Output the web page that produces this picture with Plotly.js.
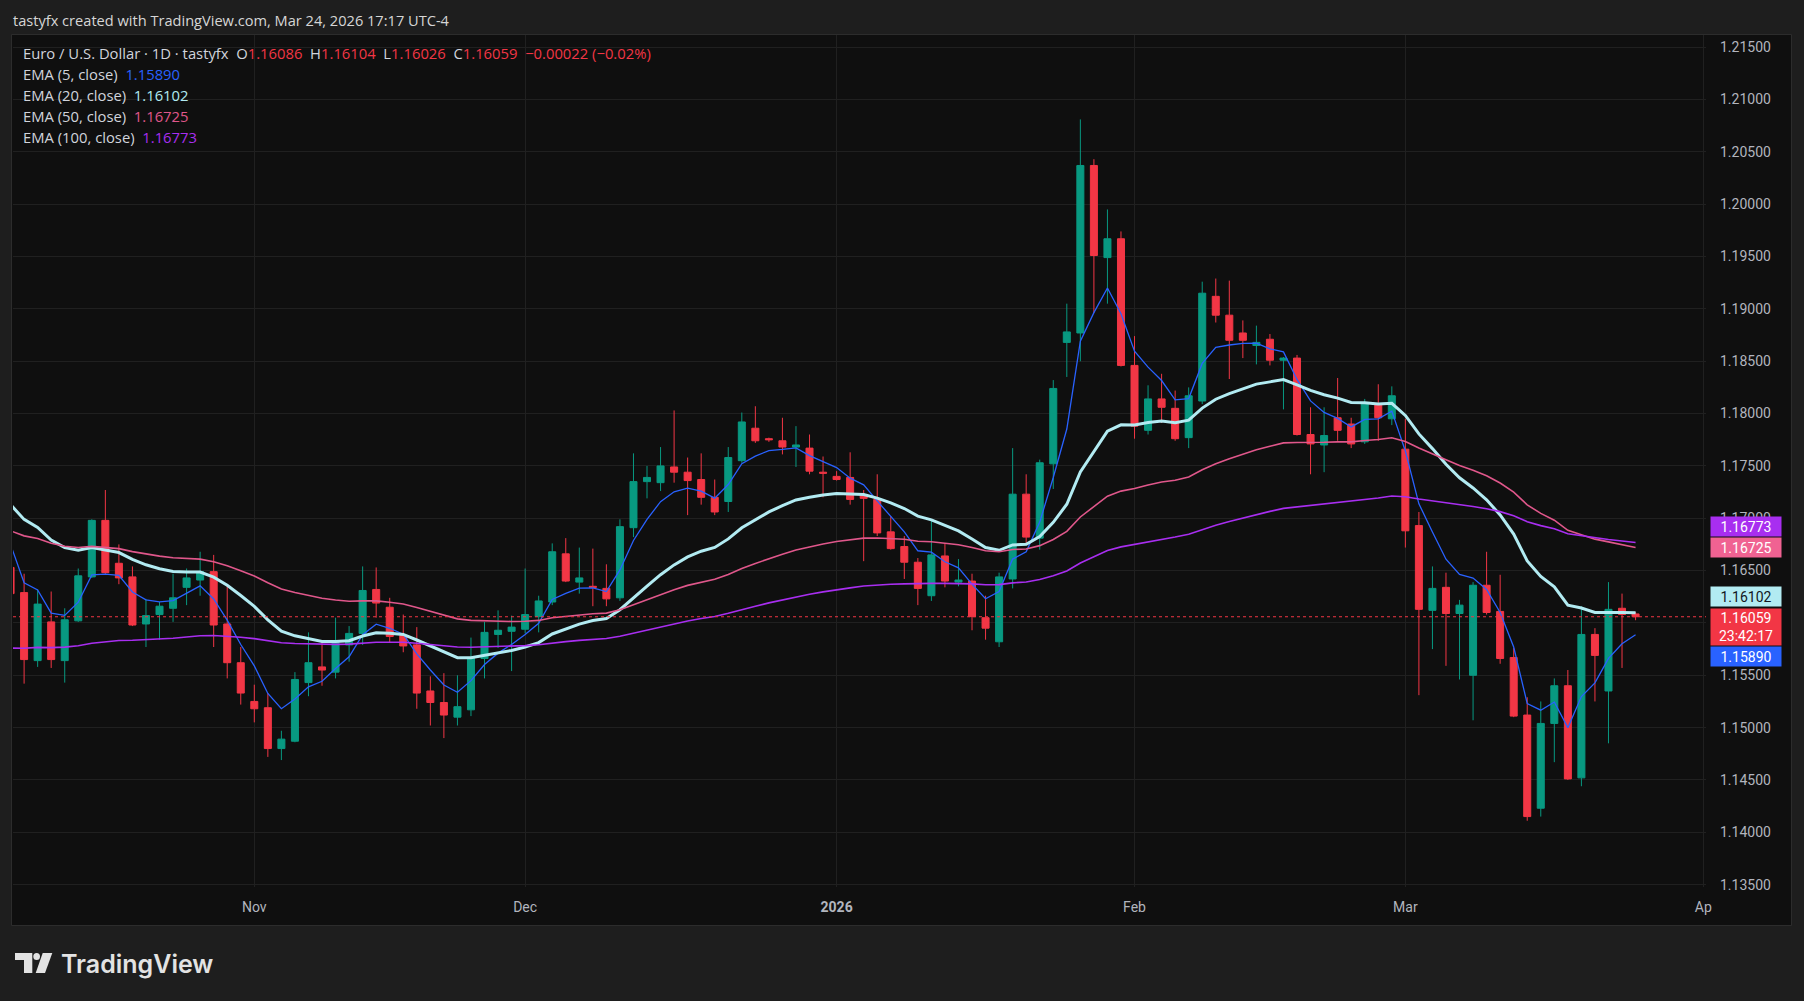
<!DOCTYPE html>
<html><head><meta charset="utf-8">
<script src="https://cdn.plot.ly/plotly-3.0.1.min.js"></script>
<style>html,body{margin:0;padding:0;background:#1e1e1e;}#chart{width:1804px;height:1001px;}</style>
</head><body><div id="chart"></div>
<script>
// ---------- DATA ----------
const dates = [
'2025-10-08','2025-10-09','2025-10-10','2025-10-13','2025-10-14','2025-10-15','2025-10-16','2025-10-17','2025-10-20','2025-10-21','2025-10-22','2025-10-23','2025-10-24','2025-10-27','2025-10-28','2025-10-29','2025-10-30','2025-10-31',
'2025-11-03','2025-11-04','2025-11-05','2025-11-06','2025-11-07','2025-11-10','2025-11-11','2025-11-12','2025-11-13','2025-11-14','2025-11-17','2025-11-18','2025-11-19','2025-11-20','2025-11-21','2025-11-24','2025-11-25','2025-11-26','2025-11-27','2025-11-28',
'2025-12-01','2025-12-02','2025-12-03','2025-12-04','2025-12-05','2025-12-08','2025-12-09','2025-12-10','2025-12-11','2025-12-12','2025-12-15','2025-12-16','2025-12-17','2025-12-18','2025-12-19','2025-12-22','2025-12-23','2025-12-24','2025-12-25','2025-12-26','2025-12-29','2025-12-30','2025-12-31',
'2026-01-01','2026-01-02','2026-01-05','2026-01-06','2026-01-07','2026-01-08','2026-01-09','2026-01-12','2026-01-13','2026-01-14','2026-01-15','2026-01-16','2026-01-19','2026-01-20','2026-01-21','2026-01-22','2026-01-23','2026-01-26','2026-01-27','2026-01-28','2026-01-29','2026-01-30',
'2026-02-02','2026-02-03','2026-02-04','2026-02-05','2026-02-06','2026-02-09','2026-02-10','2026-02-11','2026-02-12','2026-02-13','2026-02-16','2026-02-17','2026-02-18','2026-02-19','2026-02-20','2026-02-23','2026-02-24','2026-02-25','2026-02-26','2026-02-27',
'2026-03-02','2026-03-03','2026-03-04','2026-03-05','2026-03-06','2026-03-09','2026-03-10','2026-03-11','2026-03-12','2026-03-13','2026-03-16','2026-03-17','2026-03-18','2026-03-19','2026-03-20','2026-03-23','2026-03-24','2026-03-25'
];
const opens = [
1.1653,1.1629,1.1564,1.1601,1.1564,1.1602,1.1644,1.1698,1.1657,1.1644,1.1599,1.1608,1.1614,1.1634,1.1641,1.1649,1.1599,1.1562,
1.1525,1.1519,1.1480,1.1487,1.1543,1.1558,1.1553,1.1579,1.1590,1.1632,1.1615,1.1588,1.1579,1.1535,1.1524,1.1510,1.1517,1.1566,1.1589,1.1592,
1.1594,1.1606,1.1620,1.1666,1.1639,1.1635,1.1633,1.1624,1.1691,1.1735,1.1734,1.1749,1.1744,1.1737,1.1720,1.1716,1.1755,1.1786,1.1776,1.1774,1.1768,1.1767,1.1744,
1.1740,1.1739,1.1722,1.1718,1.1687,1.1673,1.1658,1.1626,1.1664,1.1639,1.1640,1.1605,1.1582,1.1642,1.1723,1.1681,1.1752,1.1868,1.1877,1.2037,1.1949,1.1967,
1.1846,1.1784,1.1814,1.1805,1.1777,1.1812,1.1912,1.1894,1.1877,1.1865,1.1871,1.1851,1.1853,1.1780,1.1770,1.1796,1.1790,1.1773,1.1809,1.1795,
1.1766,1.1693,1.1612,1.1634,1.1609,1.1550,1.1636,1.1611,1.1567,1.1512,1.1423,1.1504,1.1540,1.1452,1.1589,1.1535,1.1614,1.16086
];
const highs = [
1.1668,1.1647,1.1632,1.1630,1.1614,1.1652,1.1699,1.1727,1.1675,1.1654,1.1623,1.1620,1.1647,1.1652,1.1668,1.1665,1.1636,1.1577,
1.1541,1.1533,1.1497,1.1553,1.1591,1.1583,1.1605,1.1597,1.1654,1.1653,1.1624,1.1608,1.1596,1.1549,1.1552,1.1550,1.1586,1.1601,1.1612,1.1607,
1.1652,1.1626,1.1676,1.1681,1.1672,1.1671,1.1656,1.1699,1.1762,1.1750,1.1768,1.1803,1.1758,1.1762,1.1737,1.1768,1.1801,1.1807,1.1777,1.1796,1.1788,1.1780,1.1759,
1.1745,1.1763,1.1727,1.1742,1.1702,1.1683,1.1662,1.1698,1.1676,1.1661,1.1647,1.1626,1.1648,1.1767,1.1742,1.1756,1.1832,1.1905,1.2081,1.2043,1.1995,1.1974,
1.1874,1.1827,1.1838,1.1822,1.1825,1.1926,1.1929,1.1927,1.1889,1.1884,1.1876,1.1854,1.1856,1.1806,1.1806,1.1834,1.1796,1.1814,1.1828,1.1826,
1.1795,1.1706,1.1654,1.1648,1.1622,1.1639,1.1668,1.1646,1.1576,1.1529,1.1525,1.1547,1.1555,1.1616,1.1595,1.1639,1.1628,1.16104
];
const lows = [
1.1620,1.1542,1.1558,1.1557,1.1543,1.1601,1.1643,1.1647,1.1637,1.1597,1.1577,1.1584,1.1601,1.1617,1.1626,1.1577,1.1547,1.1522,
1.1505,1.1472,1.1469,1.1486,1.1530,1.1540,1.1547,1.1563,1.1579,1.1605,1.1581,1.1572,1.1518,1.1502,1.1490,1.1502,1.1511,1.1547,1.1576,1.1554,
1.1590,1.1591,1.1617,1.1639,1.1628,1.1616,1.1616,1.1621,1.1682,1.1719,1.1726,1.1734,1.1703,1.1713,1.1703,1.1706,1.1753,1.1772,1.1773,1.1761,1.1749,1.1742,1.1720,
1.1736,1.1713,1.1659,1.1683,1.1670,1.1642,1.1617,1.1621,1.1634,1.1635,1.1593,1.1584,1.1577,1.1633,1.1676,1.1670,1.1728,1.1835,1.1850,1.1896,1.1905,1.1845,
1.1776,1.1780,1.1791,1.1774,1.1767,1.1809,1.1887,1.1833,1.1853,1.1847,1.1846,1.1804,1.1779,1.1742,1.1744,1.1774,1.1767,1.1771,1.1774,1.1789,
1.1672,1.1531,1.1575,1.1559,1.1546,1.1507,1.1608,1.1561,1.1510,1.1411,1.1415,1.1467,1.1450,1.1444,1.1525,1.1485,1.1557,1.16026
];
const closes = [
1.1628,1.1565,1.1618,1.1565,1.1603,1.1645,1.1698,1.1648,1.1643,1.1598,1.1607,1.1616,1.1624,1.1643,1.1649,1.1598,1.1562,1.1533,
1.1518,1.1480,1.1489,1.1546,1.1562,1.1555,1.1581,1.1590,1.1631,1.1619,1.1587,1.1578,1.1533,1.1524,1.1512,1.1520,1.1567,1.1591,1.1593,1.1596,
1.1608,1.1621,1.1668,1.1640,1.1643,1.1634,1.1623,1.1692,1.1735,1.1739,1.1750,1.1744,1.1736,1.1720,1.1706,1.1758,1.1792,1.1774,1.1775,1.1768,1.1770,1.1745,1.1743,
1.1737,1.1718,1.1719,1.1686,1.1671,1.1658,1.1633,1.1665,1.1640,1.1641,1.1606,1.1595,1.1644,1.1723,1.1682,1.1753,1.1824,1.1878,1.2037,1.1951,1.1967,1.1846,
1.1788,1.1814,1.1806,1.1776,1.1817,1.1915,1.1894,1.1870,1.1870,1.1868,1.1851,1.1853,1.1780,1.1771,1.1779,1.1784,1.1771,1.1809,1.1796,1.1817,
1.1688,1.1613,1.1633,1.1609,1.1617,1.1636,1.1610,1.1566,1.1511,1.1415,1.1504,1.1540,1.1451,1.1589,1.1569,1.1613,1.16081,1.16059
];
// EMA settings: periods, values at the first visible bar, and the legend read-outs
const emaPeriods = [5, 20, 50, 100];
const emaStart = [1.1675, 1.1713, 1.1688, 1.1576];
const emaReadout = [1.15890, 1.16102, 1.16725, 1.16773];
const priceTicks = [1.135,1.140,1.145,1.150,1.155,1.160,1.165,1.170,1.175,1.180,1.185,1.190,1.195,1.200,1.205,1.210,1.215];
const monthTickDates = ['2025-11-03','2025-12-01','2026-01-01','2026-02-02','2026-03-02','2026-04-01'];
const monthTickLabels = ['Nov','Dec','2026','Feb','Mar','Ap'];
const countdown = '23:42:17';

// ---------- BUILD ----------
const W = 1804, H = 1001, ML = 13, MR = 98, MT = 35, MB = 114;
const PW = W - ML - MR, PH = H - MT - MB;
const px = x => (x - ML) / PW;
const py = y => (H - MB - y) / PH;

const xs = dates.map(d => d + ' 12:00');
const n = closes.length;

function emaSeries(period, start) {
  const a = 2 / (period + 1);
  const out = [start];
  for (let i = 1; i < n; i++) out.push(out[i - 1] + a * (closes[i] - out[i - 1]));
  return out;
}

const GREEN = '#089981', RED = '#f23645';
const emaStyle = [
  {color: '#2962ff', width: 1.3},
  {color: '#b2ebf2', width: 3},
  {color: '#e0578b', width: 1.6},
  {color: '#a82ef0', width: 1.6}
];

const traces = [{
  type: 'candlestick', x: xs, open: opens, high: highs, low: lows, close: closes,
  increasing: {line: {color: GREEN, width: 1}, fillcolor: GREEN},
  decreasing: {line: {color: RED, width: 1}, fillcolor: RED},
  whiskerwidth: 0, hoverinfo: 'skip', showlegend: false
}];
emaPeriods.forEach((p, k) => {
  traces.push({type: 'scatter', mode: 'lines', x: xs, y: emaSeries(p, emaStart[k]),
    line: {color: emaStyle[k].color, width: emaStyle[k].width}, hoverinfo: 'skip', showlegend: false});
});

const f5 = v => v.toFixed(5);
const MINUS = '\u2212';
const chg = closes[n - 1] - closes[n - 2];
const chgPct = chg / closes[n - 2] * 100;
const sgn = v => (v < 0 ? MINUS : '+');
const sp = '\u00a0\u00a0';
const red = t => '<span style="color:' + RED + '">' + t + '</span>';

const legend0 = 'Euro / U.S. Dollar · 1D · tastyfx' + sp +
  'O' + red(f5(opens[n - 1])) + sp + 'H' + red(f5(highs[n - 1])) + sp +
  'L' + red(f5(lows[n - 1])) + sp + 'C' + red(f5(closes[n - 1])) + sp +
  red(sgn(chg) + Math.abs(chg).toFixed(5) + ' (' + sgn(chg) + Math.abs(chgPct).toFixed(2) + '%)');

const txtColor = '#d1d4dc';
const annotations = [];
function addText(text, x, y, font, extra) {
  annotations.push(Object.assign({text: text, xref: 'paper', yref: 'paper', x: px(x), y: py(y),
    xanchor: 'left', yanchor: 'middle', showarrow: false, font: font}, extra || {}));
}
addText('tastyfx created with TradingView.com, Mar 24, 2026 17:17 UTC-4', 11, 19.5,
  {family: '"Open Sans", sans-serif', size: 14.6, color: '#d6d6d6'});
addText(legend0, 21, 53, {family: '"Open Sans", sans-serif', size: 14.8, color: txtColor});
const legendY = [74, 95, 116, 137];
emaPeriods.forEach((p, k) => {
  addText('EMA (' + p + ', close)' + sp + '<span style="color:' + emaStyle[k].color + '">' + f5(emaReadout[k]) + '</span>',
    21, legendY[k], {family: '"Open Sans", sans-serif', size: 14.8, color: txtColor});
});
// TradingView wordmark
addText('TradingView', 59, 964, {family: 'Inter, sans-serif', size: 25, color: '#e3e3e3', weight: 600});

// right-hand value boxes
const boxes = [
  {v: emaReadout[3], text: f5(emaReadout[3]), bg: '#a82ef0', fg: '#ffffff', shift: 16, h: 17},
  {v: emaReadout[2], text: f5(emaReadout[2]), bg: '#f06292', fg: '#ffffff', shift: 0, h: 17},
  {v: emaReadout[1], text: f5(emaReadout[1]), bg: '#b2ebf2', fg: '#131722', shift: 16, h: 17},
  {v: closes[n - 1], text: f5(closes[n - 1]) + '<br>' + countdown, bg: RED, fg: '#ffffff', shift: -10, h: 34},
  {v: emaReadout[0], text: f5(emaReadout[0]), bg: '#2962ff', fg: '#ffffff', shift: -22, h: 17}
];
boxes.forEach(b => {
  annotations.push({text: b.text, xref: 'paper', x: 1, xanchor: 'left', xshift: 4,
    yref: 'y', y: b.v, yanchor: 'middle', yshift: b.shift, showarrow: false,
    bgcolor: b.bg, width: 68, height: b.h, borderpad: 1, align: 'center',
    font: {family: 'Roboto, sans-serif', size: 14, color: b.fg}});
});

// price tick labels; the one sitting under the last-price box is hidden there in the reference
const priceTickText = priceTicks.map(v => Math.abs(v - closes[n - 1]) < 0.001 ? '' : v.toFixed(5));

function pathPx(pts) {
  return 'M' + pts.map(p => px(p[0]) + ',' + py(p[1])).join('L') + 'Z';
}
const logoColor = '#e3e3e3';
const shapes = [
  {type: 'rect', xref: 'paper', yref: 'paper', x0: px(11.5), x1: px(1791.5), y0: py(925.5), y1: py(34.5),
    fillcolor: '#0f0f0f', line: {color: '#2c2c2c', width: 1}, layer: 'below'},
  {type: 'line', xref: 'paper', x0: 0, x1: 1, yref: 'y', y0: closes[n - 1], y1: closes[n - 1],
    line: {color: RED, width: 1, dash: 'dot'}},
  {type: 'path', xref: 'paper', yref: 'paper', path: pathPx([[15, 953], [32.3, 953], [32.3, 973], [24, 973], [24, 960], [15, 960]]),
    fillcolor: logoColor, line: {width: 0}},
  {type: 'circle', xref: 'paper', yref: 'paper', x0: px(33.3), x1: px(40), y0: py(960), y1: py(953),
    fillcolor: logoColor, line: {width: 0}},
  {type: 'path', xref: 'paper', yref: 'paper', path: pathPx([[42.7, 953], [52.3, 953], [45, 973], [35.7, 973]]),
    fillcolor: logoColor, line: {width: 0}}
];

const layout = {
  width: W, height: H,
  paper_bgcolor: '#1e1e1e', plot_bgcolor: '#0f0f0f',
  margin: {l: ML, r: MR, t: MT, b: MB, pad: 0},
  font: {family: 'Roboto, sans-serif', color: txtColor},
  showlegend: false,
  boxgap: 0.26,
  hovermode: false,
  xaxis: {
    type: 'date', range: ['2025-10-08 16:20', '2026-04-01 16:50'],
    rangebreaks: [{bounds: ['sat', 'mon']}],
    rangeslider: {visible: false},
    tickvals: monthTickDates.map(d => d + ' 12:00'),
    ticktext: monthTickLabels.map(t => /^\d{4}$/.test(t) ? '<b>' + t + '</b>' : t),
    showgrid: true, gridcolor: '#202020', gridwidth: 1,
    zeroline: false, showline: false, ticks: '',
    tickfont: {family: 'Roboto, sans-serif', size: 14, color: '#b2b5be'},
    ticklabelstandoff: 10, fixedrange: true
  },
  yaxis: {
    side: 'right', range: [1.134774, 1.216165],
    tickvals: priceTicks, ticktext: priceTickText,
    showgrid: true, gridcolor: '#202020', gridwidth: 1,
    zeroline: false, showline: false, ticks: '',
    tickfont: {family: 'Roboto, sans-serif', size: 14, color: '#b2b5be'},
    ticklabelstandoff: 13, fixedrange: true
  },
  shapes: shapes,
  annotations: annotations
};

Plotly.newPlot('chart', traces, layout, {displayModeBar: false, staticPlot: true});
</script>
</body></html>
